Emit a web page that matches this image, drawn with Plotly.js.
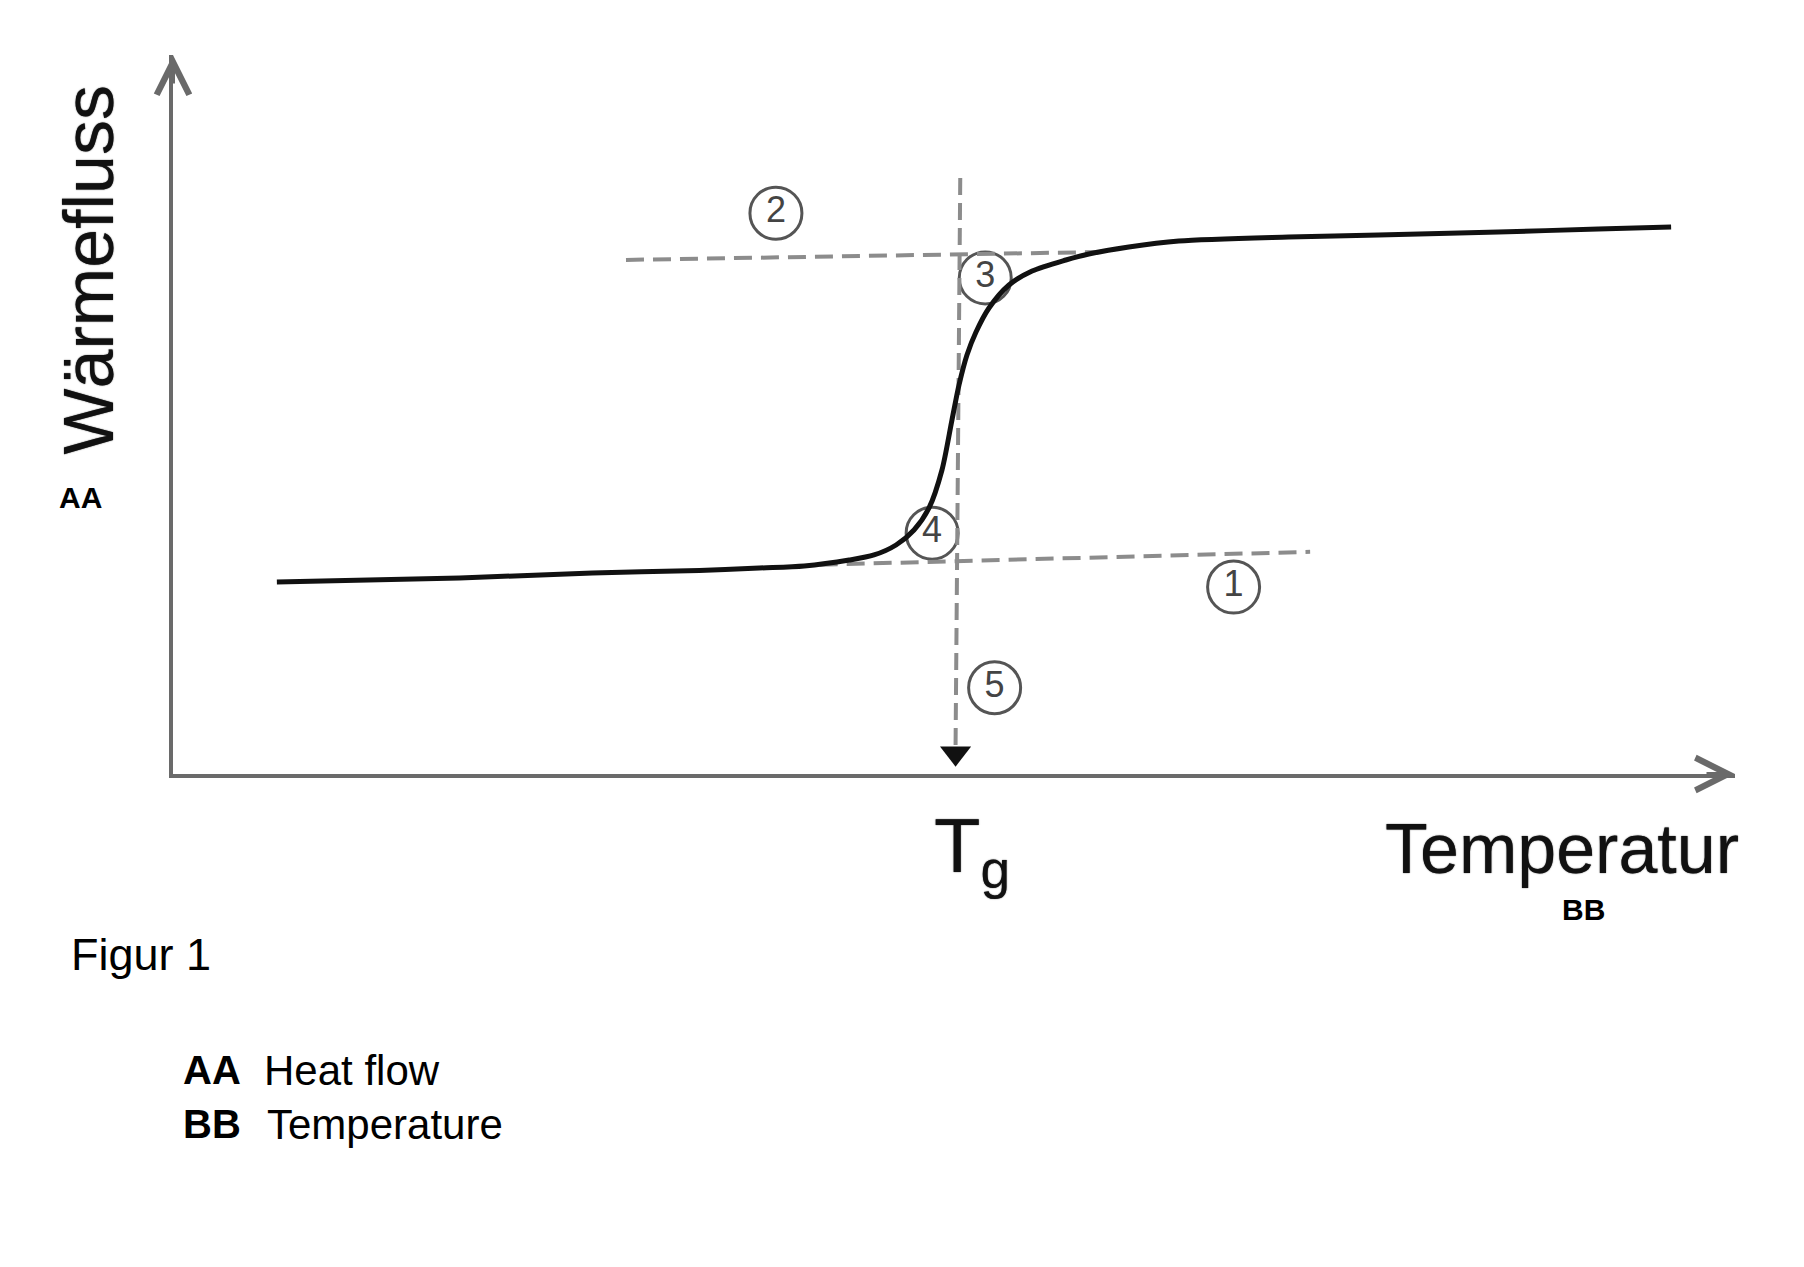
<!DOCTYPE html>
<html>
<head>
<meta charset="utf-8">
<script src="https://cdn.plot.ly/plotly-3.0.1.min.js"></script>
<style>
html,body{margin:0;padding:0;background:#ffffff;}
#chart{width:1804px;height:1267px;}
</style>
</head>
<body>
<div id="chart"></div>
<script>
// ---- data (relative units) ----
const temperature = [6.65, 18.35, 26.85, 33.70, 37.53, 40.41, 43.29, 44.88, 46.29, 47.44, 48.40, 49.23, 49.87, 50.32, 50.83, 51.41, 52.24, 53.52, 55.00, 57.16, 58.63, 61.19, 64.39, 71.42, 77.17, 84.85, 91.24, 95.91];
const heatFlow    = [26.70, 27.26, 27.96, 28.30, 28.65, 28.93, 29.76, 30.46, 31.85, 33.94, 37.00, 42.28, 49.24, 54.10, 58.28, 61.47, 64.81, 68.01, 69.96, 71.49, 72.32, 73.30, 74.13, 74.69, 74.97, 75.38, 75.80, 76.08];

const Tg = 50.1;                       // glass transition temperature
const tgLineX = [50.4, 50.1];          // vertical construction line (5)
const tgLineY = [82.9, 4.0];
const baselineX = [41.4, 72.8];        // tangent to lower baseline (1)
const baselineY = [29.1, 30.9];
const plateauX = [29.0, 59.3];         // tangent to upper baseline (2)
const plateauY = [71.5, 72.6];

const stepLabels = ['1', '2', '3', '4', '5'];
const stepLabelX = [67.9, 38.6, 52.0, 48.6, 52.6];
const stepLabelY = [26.0, 78.0, 69.0, 33.5, 12.0];

// ---- styling ----
const AXIS = '#6a6a6a';
const DASH = '#8c8c8c';
const FONT = 'Liberation Sans, Arial, sans-serif';
const HEAVY = '0px 0px 1.2px #222';

const traces = [
  { // circled step numbers
    x: stepLabelX, y: stepLabelY, text: stepLabels,
    mode: 'markers+text', type: 'scatter',
    marker: {symbol: 'circle-open', size: 52, color: '#555', line: {width: 3, color: '#555'}},
    textposition: 'middle center',
    textfont: {family: FONT, size: 36, color: '#444'},
    hoverinfo: 'skip', cliponaxis: false
  },
  { // upper tangent
    x: plateauX, y: plateauY, mode: 'lines', type: 'scatter',
    line: {color: DASH, width: 4, dash: '18px,9px'}, hoverinfo: 'skip'
  },
  { // lower tangent
    x: baselineX, y: baselineY, mode: 'lines', type: 'scatter',
    line: {color: DASH, width: 4, dash: '18px,9px'}, hoverinfo: 'skip'
  },
  { // vertical line at Tg
    x: tgLineX, y: tgLineY, mode: 'lines', type: 'scatter',
    line: {color: DASH, width: 4, dash: '17px,8px'}, hoverinfo: 'skip'
  },
  { // arrow head at Tg
    x: [Tg], y: [2.9], mode: 'markers', type: 'scatter',
    marker: {symbol: 'triangle-down', size: 27, color: '#111'},
    hoverinfo: 'skip', cliponaxis: false
  },
  { // DSC curve
    x: temperature, y: heatFlow, mode: 'lines', type: 'scatter',
    line: {color: '#111', width: 5, shape: 'spline', smoothing: 0.8},
    hoverinfo: 'skip'
  }
];

const layout = {
  width: 1804, height: 1267,
  margin: {l: 173, r: 69, t: 55, b: 493},
  paper_bgcolor: '#ffffff', plot_bgcolor: '#ffffff',
  showlegend: false,
  xaxis: {range: [0, 100], showline: true, linecolor: AXIS, linewidth: 4,
          showticklabels: false, ticks: '', showgrid: false, zeroline: false, fixedrange: true},
  yaxis: {range: [0, 100], showline: true, linecolor: AXIS, linewidth: 4,
          showticklabels: false, ticks: '', showgrid: false, zeroline: false, fixedrange: true},
  annotations: [
    // axis arrow heads
    {x: 0, y: 100, xref: 'x', yref: 'y', ax: 0, ay: 30, text: '', showarrow: true,
     arrowhead: 5, arrowsize: 1.6, arrowwidth: 4, arrowcolor: AXIS},
    {x: 100, y: 0, xref: 'x', yref: 'y', ax: -30, ay: 0, text: '', showarrow: true,
     arrowhead: 5, arrowsize: 1.6, arrowwidth: 4, arrowcolor: AXIS},
    // axis titles
    {x: -0.0541, y: 0.701, xref: 'paper', yref: 'paper', text: 'Wärmefluss', textangle: -90, showarrow: false,
     font: {family: FONT, size: 70, color: '#111', shadow: HEAVY}, xanchor: 'center', yanchor: 'middle'},
    {x: -0.0589, y: 0.3839, xref: 'paper', yref: 'paper', text: '<b>AA</b>', showarrow: false,
     font: {family: FONT, size: 30, color: '#000'}, xanchor: 'center', yanchor: 'middle'},
    {x: 1.0038, y: -0.1043, xref: 'paper', yref: 'paper', text: 'Temperatur', showarrow: false,
     font: {family: FONT, size: 70, color: '#111', shadow: HEAVY}, xanchor: 'right', yanchor: 'middle'},
    {x: 0.9033, y: -0.1878, xref: 'paper', yref: 'paper', text: '<b>BB</b>', showarrow: false,
     font: {family: FONT, size: 30, color: '#000'}, xanchor: 'center', yanchor: 'middle'},
    {x: 0.5115, y: -0.107, xref: 'paper', yref: 'paper', text: 'T<sub>g</sub>', showarrow: false,
     font: {family: FONT, size: 76, color: '#111', shadow: HEAVY}, xanchor: 'center', yanchor: 'middle'},
    // caption
    {x: -0.0666, y: -0.2517, xref: 'paper', yref: 'paper', text: 'Figur 1', showarrow: false,
     font: {family: FONT, size: 45, color: '#000'}, xanchor: 'left', yanchor: 'middle'},
    {x: 0.0051, y: -0.4117, xref: 'paper', yref: 'paper', text: '<b>AA</b>', showarrow: false,
     font: {family: FONT, size: 40, color: '#000'}, xanchor: 'left', yanchor: 'middle'},
    {x: 0.057, y: -0.4117, xref: 'paper', yref: 'paper', text: 'Heat flow', showarrow: false,
     font: {family: FONT, size: 42, color: '#000'}, xanchor: 'left', yanchor: 'middle'},
    {x: 0.0051, y: -0.4868, xref: 'paper', yref: 'paper', text: '<b>BB</b>', showarrow: false,
     font: {family: FONT, size: 40, color: '#000'}, xanchor: 'left', yanchor: 'middle'},
    {x: 0.0589, y: -0.4868, xref: 'paper', yref: 'paper', text: 'Temperature', showarrow: false,
     font: {family: FONT, size: 42, color: '#000'}, xanchor: 'left', yanchor: 'middle'}
  ]
};

Plotly.newPlot('chart', traces, layout, {staticPlot: true, displayModeBar: false});
</script>
</body>
</html>
